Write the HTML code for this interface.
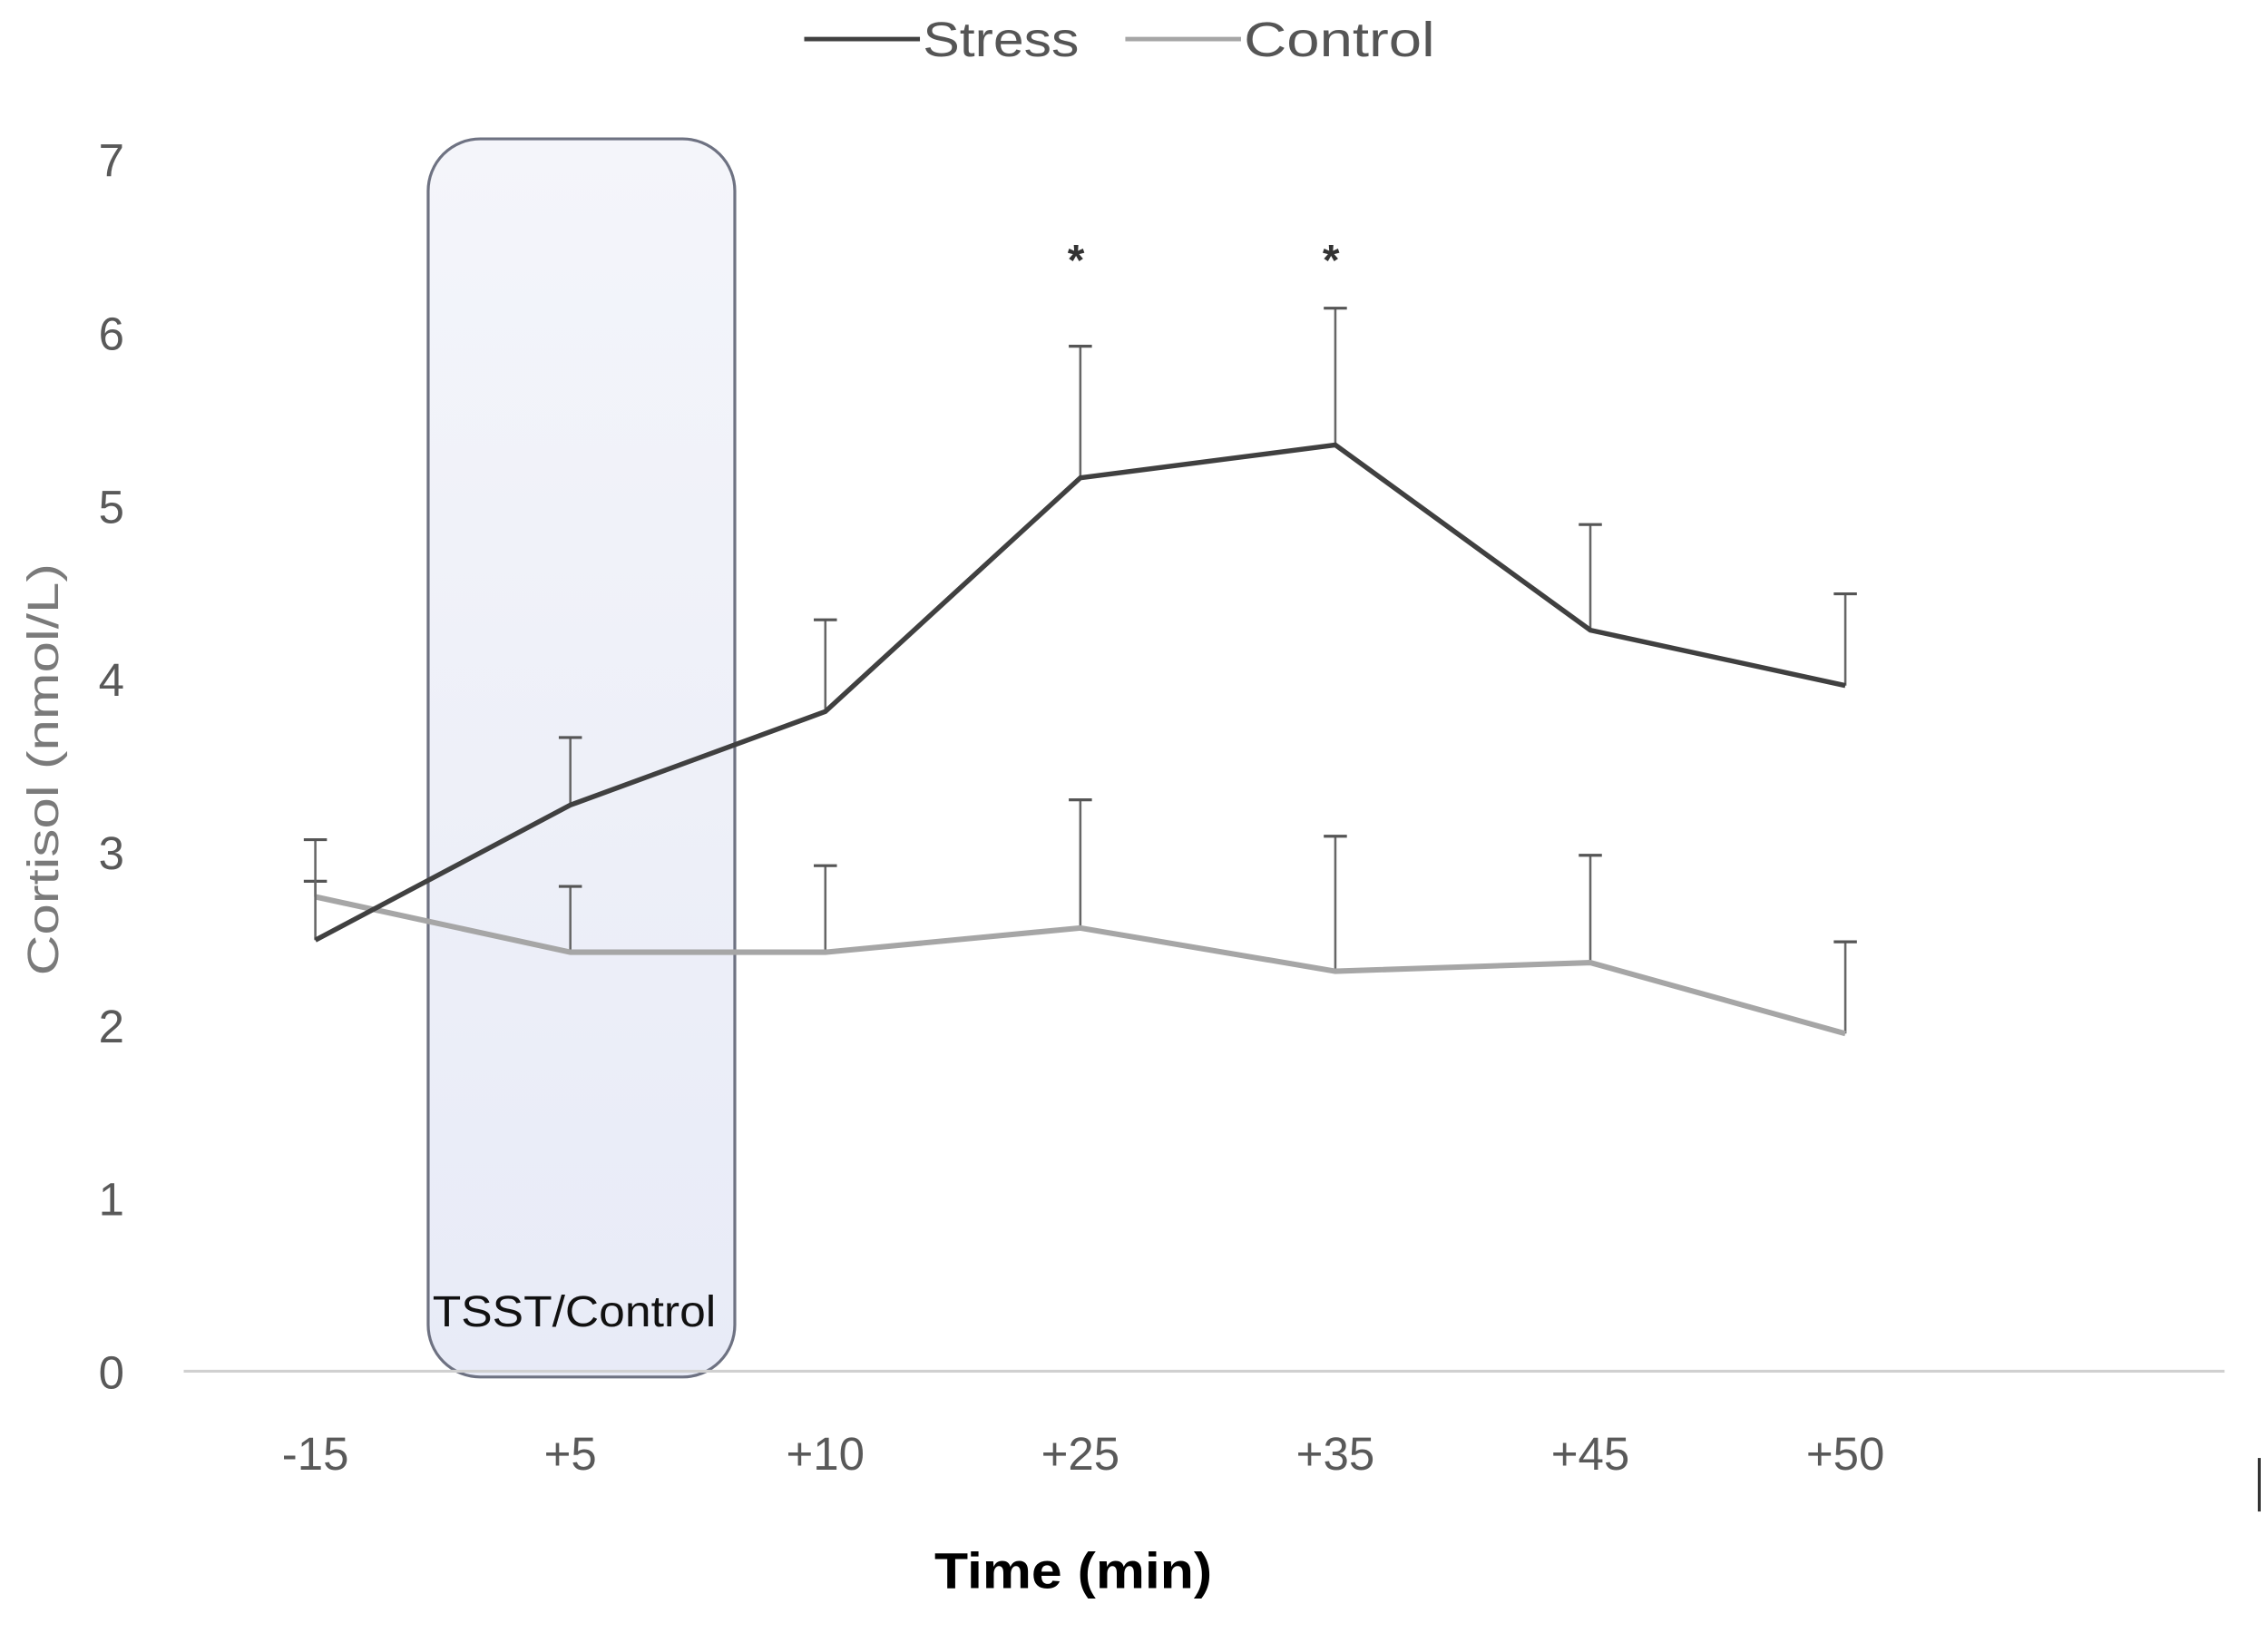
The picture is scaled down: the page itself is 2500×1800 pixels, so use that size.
<!DOCTYPE html>
<html><head><meta charset="utf-8"><style>html,body{margin:0;padding:0;background:#fff}svg{display:block}</style></head>
<body>
<svg id="chart" width="2500" height="1800" viewBox="0 0 1568 1129" xmlns="http://www.w3.org/2000/svg" font-family="'Liberation Sans', sans-serif">
<defs><linearGradient id="g" x1="0" y1="0" x2="0" y2="1"><stop offset="0" stop-color="#f4f5fa"/><stop offset="1" stop-color="#e8ebf7"/></linearGradient></defs>
<rect x="296" y="96" width="212" height="856" rx="36" fill="url(#g)" stroke="#6e7282" stroke-width="2"/>
<text x="397" y="917" text-anchor="middle" font-size="30" fill="#111" textLength="196" lengthAdjust="spacingAndGlyphs">TSST/Control</text>
<line x1="127" y1="948" x2="1538" y2="948" stroke="#d0d0d0" stroke-width="2"/>
<g id="yticks"></g><g id="xticks"></g><g id="series"></g>
<text transform="translate(40,532) rotate(-90)" text-anchor="middle" font-size="30" fill="#7a7a7a" textLength="285" lengthAdjust="spacingAndGlyphs">Cortisol (nmol/L)</text>
<text x="742" y="1098" text-anchor="middle" font-size="35" font-weight="bold" fill="#000" textLength="192" lengthAdjust="spacingAndGlyphs">Time (min)</text>
<line x1="556" y1="27" x2="636" y2="27" stroke="#404040" stroke-width="3"/>
<text x="638" y="39" font-size="34" fill="#555" textLength="108" lengthAdjust="spacingAndGlyphs">Stress</text>
<line x1="778" y1="27" x2="858" y2="27" stroke="#a6a6a6" stroke-width="3"/>
<text x="860" y="39" font-size="34" fill="#555" textLength="132" lengthAdjust="spacingAndGlyphs">Control</text>
<line x1="1562" y1="1008" x2="1562" y2="1045" stroke="#333" stroke-width="2"/>
</svg>
<script>
const categories=["-15","+5","+10","+25","+35","+45","+50"];
const stressValues=[2.49,3.27,3.81,5.16,5.35,4.28,3.96];
const stressErrTop=[3.07,3.66,4.34,5.92,6.14,4.89,4.49];
const controlValues=[2.74,2.42,2.42,2.56,2.31,2.36,1.95];
const controlErrTop=[2.83,2.80,2.92,3.30,3.09,2.98,2.48];
const yTicks=[0,1,2,3,4,5,6,7];
const significant=[false,false,false,true,true,false,false];
const NS="http://www.w3.org/2000/svg";
function yScale(v){return 948-v*119.7;}
function xScale(i){return 218+i*176.3;}
function mk(tag,attrs,parent){const e=document.createElementNS(NS,tag);for(const k in attrs)e.setAttribute(k,attrs[k]);parent.appendChild(e);return e;}
const yg=document.getElementById('yticks'),xg=document.getElementById('xticks'),sg=document.getElementById('series');
yTicks.forEach(t=>{const e=mk('text',{x:77,y:yScale(t)+12,'text-anchor':'middle','font-size':32,fill:'#595959'},yg);


e.textContent=t;});
categories.forEach((c,i)=>{const e=mk('text',{x:xScale(i),y:1016,'text-anchor':'middle','font-size':32,fill:'#595959'},xg);


e.textContent=c;});
function drawSeries(vals,tops,color,w,name){
 vals.forEach((v,i)=>{const x=xScale(i);
  const l=mk('line',{x1:x,y1:yScale(v),x2:x,y2:yScale(tops[i]),stroke:'#666','stroke-width':1.6},sg);
  
  
  const cap=mk('line',{x1:x-8,y1:yScale(tops[i]),x2:x+8,y2:yScale(tops[i]),stroke:'#555','stroke-width':2},sg);
  
  
 });
 const p=mk('polyline',{points:vals.map((v,i)=>xScale(i)+','+yScale(v)).join(' '),fill:'none',stroke:color,'stroke-width':w,'stroke-linejoin':'miter'},sg);
 
 
}
drawSeries(controlValues,controlErrTop,'#a6a6a6',3.8,'control');
drawSeries(stressValues,stressErrTop,'#404040',3.4,'stress');
significant.forEach((s,i)=>{if(!s)return;const t=mk('text',{x:xScale(i)-3,y:190,'text-anchor':'middle','font-size':30,'font-weight':'bold',fill:'#333'},sg);


t.textContent='*';});
</script>
</body></html>
